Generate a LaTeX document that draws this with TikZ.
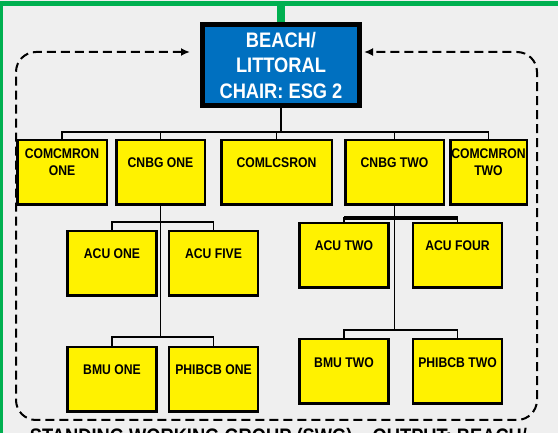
\documentclass[tikz,border=0pt]{standalone}
\usepackage{fontspec}
\newfontfamily\narrowsans[FakeStretch=0.87]{Liberation Sans}
\usetikzlibrary{positioning,arrows.meta}
\definecolor{chairblue}{RGB}{0,112,192}
\definecolor{framegreen}{RGB}{0,176,80}
\definecolor{bggray}{RGB}{239,239,239}
\newcommand\chairfont{\narrowsans\bfseries\fontsize{21}{25.5}\selectfont}
\newcommand\unitfont{\narrowsans\bfseries\fontsize{14}{17}\selectfont}

\begin{document}
\begin{tikzpicture}[x=1pt, y=-1pt, >={Latex[length=9pt,width=8pt]},
 chairbox/.style = {draw, rectangle, line width=5pt, fill=chairblue, text=white, font=\chairfont, minimum width=157pt, minimum height=81pt, inner sep=0pt, align=center},
 unitbox/.style = {draw, rectangle, line width=2.5pt, fill=yellow, font=\unitfont, minimum height=64.5pt, inner sep=0pt, align=center, text height=10pt, text depth=19pt},
 childbox/.style = {unitbox, minimum width=89pt},
 twoline/.style = {text height=10pt, text depth=3pt},
 branch/.style = {draw, line width=1.9pt},
 feedback/.style = {draw, line width=2pt, dash pattern=on 9pt off 5pt, rounded corners=20pt, <->},
 frame/.style = {draw=framegreen, line width=5pt},
                        ]
    \fill[bggray] (0,0) rectangle (558,433);
    \useasboundingbox (0,0) rectangle (558,433);
    \clip (0,0) rectangle (558,433);

    \node [chairbox] at (281,65)             (chair)     {BEACH/\\ LITTORAL\\ CHAIR: ESG 2};
    \node [unitbox, twoline, minimum width=89.5pt] at (62,172.5) (comone) {COMCMRON\\ ONE};
    \node [unitbox, minimum width=88.5pt, right=7pt of comone]    (cnbgone)   {CNBG ONE};
    \node [unitbox, minimum width=110.5pt, right=14pt of cnbgone] (comlcs)    {COMLCSRON};
    \node [unitbox, minimum width=98.5pt, right=11pt of comlcs]   (cnbgtwo)   {CNBG TWO};
    \node [unitbox, twoline, minimum width=76.5pt, right=4pt of cnbgtwo] (comtwo) {COMCMRON\\ TWO};

    \node [childbox, below=24pt of cnbgone.south west, xshift=-3pt] (acuone)    {ACU ONE};
    \node [childbox, right=10pt of acuone]                          (acufive)   {ACU FIVE};
    \node [childbox, below=49pt of acuone]                          (bmuone)    {BMU ONE};
    \node [childbox, right=10pt of bmuone]                          (phibcbone) {PHIBCB ONE};

    \node [childbox, below=16pt of cnbgtwo.south west]              (acutwo)    {ACU TWO};
    \node [childbox, right=22pt of acutwo]                          (acufour)   {ACU FOUR};
    \node [childbox, below=49pt of acutwo]                          (bmutwo)    {BMU TWO};
    \node [childbox, right=22pt of bmutwo]                          (phibcbtwo) {PHIBCB TWO};

    \node [anchor=base, font=\chairfont] at (278.5,443) (swg) {STANDING WORKING GROUP (SWG) – OUTPUT: BEACH/};

%% green frame
    \path[frame] (0.5,433) -- (0.5,3.5) -- (558,3.5);
    \path[frame, line width=8pt] (chair.north |- 0,3.5) -- (chair.north);

%% tree
    \coordinate [below=24pt of chair]    (chairbus);
    \coordinate [below=16pt of cnbgone]  (lefttop);
    \coordinate [below=131pt of cnbgone] (leftbot);
    \coordinate [below=12pt of cnbgtwo]  (righttop);
    \coordinate [below=124pt of cnbgtwo] (rightbot);

    \path[branch] (chair) -- (chairbus);
    \foreach \n in {comone,cnbgone,comlcs,cnbgtwo,comtwo}
        \path[branch] (chairbus) -| (\n);
    \path[branch] (cnbgone) -- (leftbot)
                  (lefttop) -| (acuone)  (lefttop) -| (acufive)
                  (leftbot) -| (bmuone)  (leftbot) -| (phibcbone);
    \path[branch] (cnbgtwo) -- (rightbot)
                  (righttop) -| (acutwo) (righttop) -| (acufour)
                  (rightbot) -| (bmutwo) (rightbot) -| (phibcbtwo);
    \path[branch, line width=4.5pt] (acutwo |- righttop) -- (acufour |- righttop);

%% feedback loop
    \coordinate [left=10pt of chair.west, yshift=13pt]  (loopin);
    \coordinate [right=2pt of chair.east, yshift=13pt]  (loopout);
    \path[feedback] (loopin) -- (16,52) -- (16,420) -- (537,420) -- (537,52) -- (loopout);
\end{tikzpicture}
\end{document}
